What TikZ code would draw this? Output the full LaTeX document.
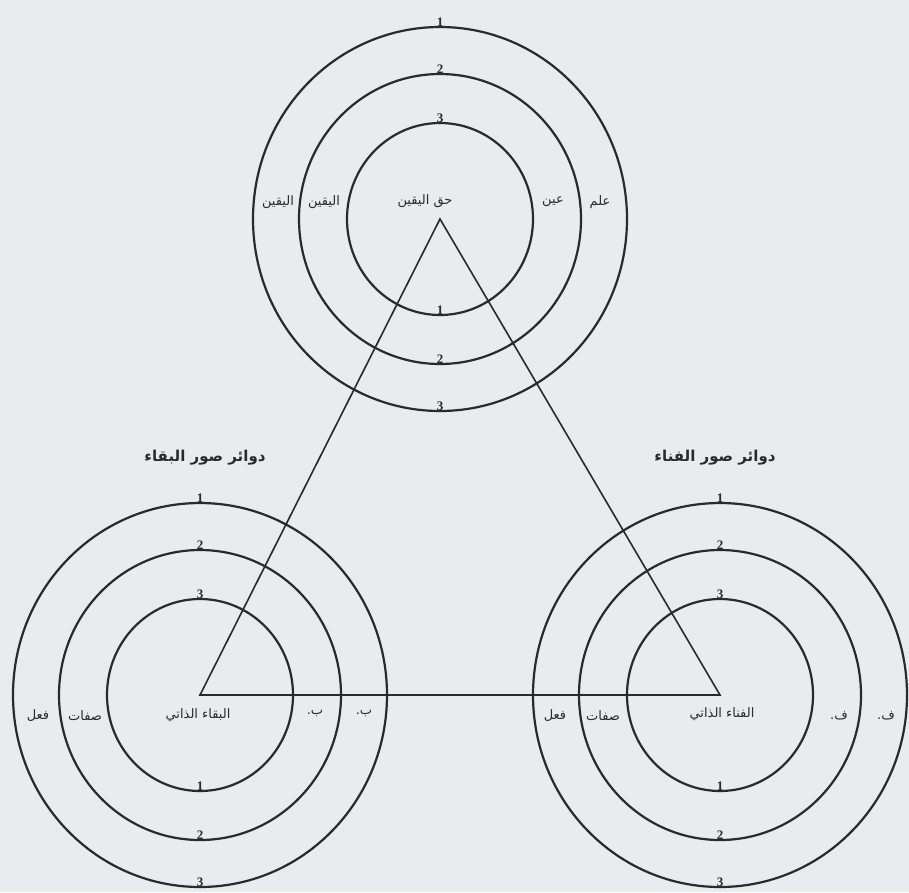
\documentclass[tikz,border=0pt]{standalone}
\usepackage{fontspec}
\setmainfont{Liberation Serif}
\newfontfamily\arabicfont[Script=Arabic]{DejaVu Sans}
\TeXXeTstate=1
\definecolor{paper}{HTML}{E9EBEE}
\definecolor{ink}{HTML}{2A2A2A}
\tikzset{
  ring/.style={draw=ink, line width=2.2pt},
  tri/.style={draw=ink, line width=1.6pt, line join=miter},
  num/.style={text=ink, font=\fontsize{13}{13}\selectfont\bfseries, inner sep=0.6pt, anchor=south},
  ar/.style={text=ink, font=\arabicfont\fontsize{13}{15}\selectfont, inner sep=0pt},
  head/.style={text=ink, font=\arabicfont\fontsize{15}{17}\selectfont\bfseries, inner sep=0pt}
}
\newcommand{\AR}[1]{\beginR #1\endR}
\begin{document}
\begin{tikzpicture}[x=1pt,y=-1pt]
\fill[paper] (0,0) rectangle (909,892);
\useasboundingbox (0,0) rectangle (909,892);
% centres
\coordinate (T) at (440,219);
\coordinate (L) at (200,695);
\coordinate (R) at (720,695);
% rings
\foreach \c in {T,L,R}{
  \draw[ring] (\c) ellipse [x radius=93pt, y radius=96pt];
  \draw[ring] (\c) ellipse [x radius=141pt, y radius=145pt];
  \draw[ring] (\c) ellipse [x radius=187pt, y radius=192pt];
}
% triangle
\draw[tri] (T) -- (L) -- (R) -- cycle;
% numbers (top of each set: 1 outer, 3 inner; bottom: 1 inner, 3 outer)
\foreach \c in {T,L,R}{
  \node[num] (\c o1) at ([yshift=192pt]\c) {1};
  \node[num] (\c o2) at ([yshift=145pt]\c) {2};
  \node[num] (\c o3) at ([yshift=96pt]\c) {3};
  \node[num] (\c u1) at ([yshift=-96pt]\c) {1};
  \node[num] (\c u2) at ([yshift=-145pt]\c) {2};
  \node[num] (\c u3) at ([yshift=-192pt]\c) {3};
}
% top set labels
\node[ar] (haqq) at (425,201) {\AR{حق اليقين}};
\node[ar] (ayn) at (553,202) {\AR{عين}};
\node[ar] (ilm) at (600,202) {\AR{علم}};
\node[ar] (yaq1) at (324,202) {\AR{اليقين}};
\node[ar] (yaq2) at (278,202) {\AR{اليقين}};
% left set labels
\node[head] (hbaqa) at (205,458) {\AR{دوائر صور البقاء}};
\node[ar] (baqa) at (198,715) {\AR{البقاء الذاتي}};
\node[ar] (sifL) at (85,716) {\AR{صفات}};
\node[ar] (filL) at (38,716) {\AR{فعل}};
\node[ar] (b1) at (315,713) {\AR{ب.}};
\node[ar] (b2) at (364,713) {\AR{ب.}};
% right set labels
\node[head] (hfana) at (715,458) {\AR{دوائر صور الفناء}};
\node[ar] (fana) at (722,714) {\AR{الفناء الذاتي}};
\node[ar] (sifR) at (603,716) {\AR{صفات}};
\node[ar] (filR) at (555,716) {\AR{فعل}};
\node[ar] (f1) at (839,716) {\AR{ف.}};
\node[ar] (f2) at (886,716) {\AR{ف.}};
\end{tikzpicture}
\end{document}
